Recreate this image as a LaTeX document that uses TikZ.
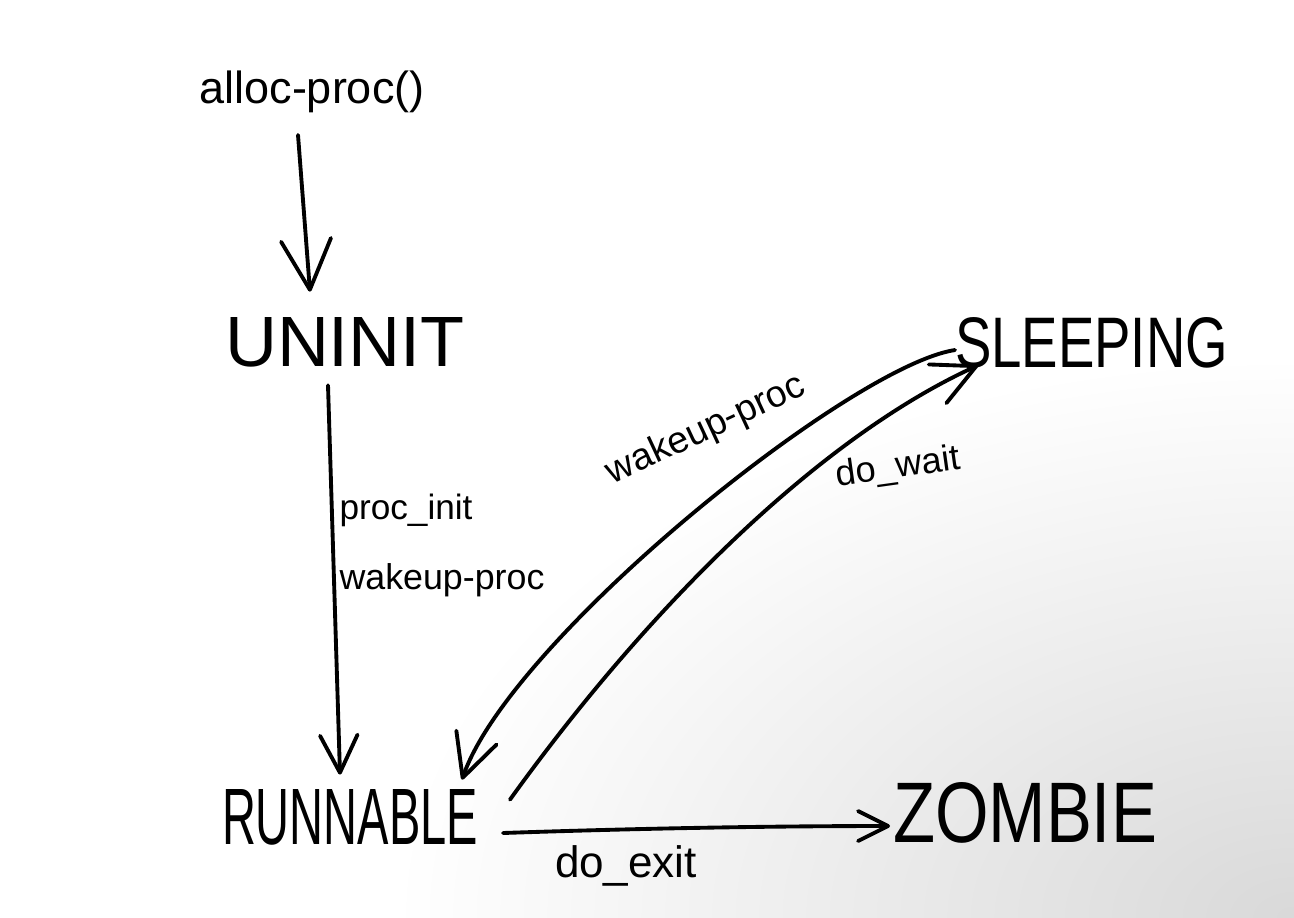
\documentclass[tikz,border=0pt]{standalone}
\usepackage{fontspec}
\setmainfont{Liberation Sans}
\usetikzlibrary{arrows.meta}
\tikzset{
  lbl/.style={inner sep=0pt, outer sep=0pt, text=black},
  conn/.style={draw=black, line width=2.2pt, line cap=round, line join=round},
  arr/.style={conn, -{Straight Barb[round, length=#1, width=#1]}},
  arr/.default=0.8cm
}
\begin{document}
\begin{tikzpicture}[x=0.02cm, y=-0.02cm]
\useasboundingbox (0,0) rectangle (1294,917);
\begin{scope}
  \clip (0,0) rectangle (1294,917);
  \shade[inner color=black!15, outer color=white] (1294,917) ellipse (900 and 560);
\end{scope}

% states
\node[lbl] (alloc)    at (312,92)    {\resizebox{4.5cm}{!}{alloc-proc()}};
\node[lbl] (uninit)   at (345,342.5) {\resizebox{4.8cm}{0.98cm}{UNINIT}};
\node[lbl] (sleeping) at (1091.5,343){\resizebox{5.46cm}{1.0cm}{SLEEPING}};
\node[lbl] (runnable) at (350,817.5) {\resizebox{5.12cm}{1.1cm}{RUNNABLE}};
\node[lbl] (zombie)   at (1025,813)  {\resizebox{5.28cm}{1.2cm}{ZOMBIE}};

% labels
\node[lbl] (l1) at (406,510) {\resizebox{2.66cm}{!}{proc\_init}};
\node[lbl] (l2) at (442,580) {\resizebox{4.1cm}{!}{wakeup-proc}};
\node[lbl, rotate=25] (l3) at (706,430) {\resizebox{4.3cm}{!}{wakeup-proc}};
\node[lbl, rotate=8] (l4) at (898,468) {\resizebox{2.5cm}{!}{do\_wait}};
\node[lbl] (l5) at (626,866) {\resizebox{2.84cm}{!}{do\_exit}};

% connectors
\draw[arr=1.0cm] ([shift={(-0.28cm,-0.44cm)}]alloc.south)
      -- ([shift={(-0.7cm,0.52cm)}]uninit.north);
\draw[arr=0.75cm] ([shift={(-0.34cm,-0.36cm)}]uninit.south)
      -- ([shift={(-0.2cm,0.3cm)}]runnable.north);
\draw[arr=0.85cm] ([yshift=-0.14cm]sleeping.west)
      .. controls (850,366) and (510,640) ..
      ([shift={(-0.32cm,0.2cm)}]runnable.north east);
\draw[arr=0.85cm] ([shift={(0.64cm,-0.2cm)}]runnable.north east)
      .. controls (652,602) and (823,436) ..
      ([shift={(0.46cm,0.06cm)}]sleeping.south west);
\draw[arr=0.6cm] ([shift={(0.5cm,-0.31cm)}]runnable.east)
      .. controls (650,828) and (780,826) ..
      ([shift={(-0.06cm,-0.26cm)}]zombie.west);
\end{tikzpicture}
\end{document}
